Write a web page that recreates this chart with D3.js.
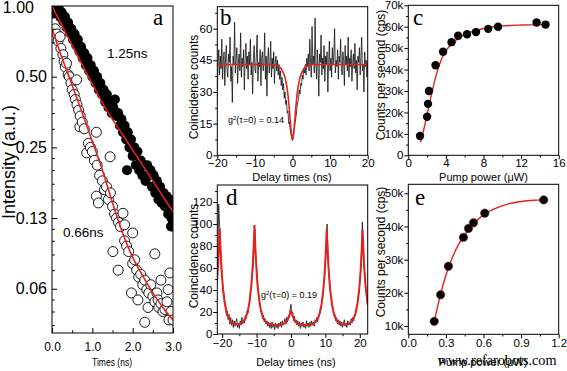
<!DOCTYPE html>
<html>
<head>
<meta charset="utf-8">
<script src="https://cdn.jsdelivr.net/npm/d3@7"></script>
<style>
  body { margin: 0; background: #fff; }
  text { font-family: "Liberation Sans", Arial, sans-serif; fill: #000; }
  .letter { font-family: "Liberation Serif", "Times New Roman", serif; font-size: 23px; }
</style>
</head>
<body>
<svg id="fig" width="567" height="371"></svg>
<script>
const RED = "#e3221e";

// ---------- panel a : decay curves (time ns, intensity) ----------
const decayFilled = [[0,1.0],[0.04,0.93],[0.08,1.02],[0.12,0.95],[0.16,0.99],[0.2,0.90],[0.24,0.94],[0.28,0.86],[0.32,0.90],
  [0.36,0.81],[0.4,0.85],[0.44,0.77],[0.48,0.80],[0.52,0.72],[0.56,0.76],[0.6,0.68],[0.64,0.72],[0.68,0.64],[0.72,0.67],
  [0.76,0.60],[0.8,0.63],[0.84,0.56],[0.88,0.60],[0.92,0.53],[0.96,0.56],[1.0,0.50],[1.04,0.53],[1.08,0.47],[1.12,0.50],
  [1.16,0.44],[1.2,0.47],[1.24,0.42],[1.28,0.44],[1.32,0.39],[1.36,0.42],[1.4,0.37],[1.44,0.39],[1.48,0.35],[1.52,0.37],
  [1.56,0.40],[1.6,0.34],[1.64,0.35],[1.68,0.31],[1.72,0.33],[1.76,0.29],[1.8,0.31],[1.84,0.27],[1.86,0.20],[1.88,0.29],
  [1.92,0.25],[1.96,0.27],[2.0,0.23],[2.04,0.25],[2.08,0.21],[2.12,0.24],[2.16,0.20],[2.2,0.22],[2.24,0.19],[2.28,0.21],
  [2.32,0.18],[2.36,0.21],[2.4,0.19],[2.44,0.20],[2.48,0.17],[2.52,0.19],[2.56,0.16],[2.6,0.18],[2.64,0.15],[2.68,0.17],
  [2.72,0.145],[2.76,0.16],[2.8,0.14],[2.84,0.155],[2.88,0.13],[2.92,0.15],[2.96,0.125],[3.0,0.14],[2.95,0.115],[3.0,0.12]];
const decayOpen = [[0.08,0.80],[0.12,0.76],[0.15,0.71],[0.2,0.74],[0.22,0.66],[0.27,0.62],[0.3,0.58],[0.33,0.55],[0.36,0.57],
  [0.4,0.51],[0.43,0.50],[0.47,0.47],[0.5,0.44],[0.55,0.42],[0.58,0.40],[0.61,0.485],[0.62,0.38],[0.66,0.36],[0.69,0.306],
  [0.7,0.34],[0.75,0.32],[0.8,0.30],[0.86,0.237],[0.9,0.26],[0.95,0.25],[1.0,0.24],[1.05,0.22],[1.1,0.29],[1.12,0.21],
  [1.1,0.155],[1.15,0.145],[1.18,0.19],[1.25,0.18],[1.3,0.165],[1.35,0.17],[1.44,0.228],[1.4,0.15],[1.45,0.16],[1.5,0.14],
  [1.51,0.09],[1.55,0.13],[1.6,0.125],[1.64,0.075],[1.65,0.12],[1.7,0.115],[1.76,0.131],[1.8,0.117],[1.8,0.10],[1.85,0.095],
  [1.9,0.09],[1.97,0.06],[2.0,0.108],[2.0,0.08],[2.05,0.083],[2.1,0.075],[2.13,0.056],[2.15,0.07],[2.2,0.072],[2.25,0.065],
  [2.3,0.045],[2.3,0.068],[2.35,0.062],[2.38,0.052],[2.4,0.06],[2.45,0.065],[2.5,0.058],[2.55,0.088],[2.55,0.055],[2.6,0.06],
  [2.63,0.056],[2.65,0.052],[2.7,0.068],[2.7,0.054],[2.75,0.05],[2.8,0.051],[2.85,0.055],[2.88,0.062],[2.9,0.046],
  [2.92,0.073],[2.95,0.05],[3.0,0.046]];
const fitFilled = [[0,1.0],[0.5,0.68],[1,0.465],[1.35,0.361],[1.5,0.329],[2,0.244],[2.5,0.18],[3,0.133]];
const fitOpen = [[0,0.80],[0.25,0.60],[0.5,0.46],[0.75,0.35],[1.0,0.265],[1.25,0.20],[1.5,0.145],[1.75,0.108],
  [2.0,0.085],[2.25,0.071],[2.5,0.060],[2.75,0.052],[3.0,0.046]];
const aYTicks = [1, 0.5, 0.25, 0.125, 0.0625];
const aYLabels = ["1.00", "0.50", "0.25", "0.13", "0.06"];

// ---------- panel b : g2 under cw pump (start -20 ns, step 0.2 ns) ----------
const bCounts = [27,44,50,38,47,41,55,36,45,49,33,46,52,40,37,48,44,56,35,42,
  25,47,43,63,39,45,51,34,44,48,40,58,37,46,42,50,31,45,53,41,
  47,36,49,43,55,38,44,29,46,52,41,39,48,57,35,44,42,50,33,46,
  49,40,44,58,36,47,28,45,51,39,43,54,37,46,41,49,34,44,47,40,
  45,38,43,36,40,33,37,31,34,27,30,24,26,20,21,15,16,12,10,8,
  7,
  9,11,14,17,19,23,25,27,31,29,34,33,38,36,41,39,43,38,46,42,
  48,40,55,44,37,61,43,47,39,65,45,36,50,42,28,48,44,57,38,46,
  41,52,35,47,43,49,30,44,54,40,46,37,51,43,48,60,39,45,42,50,
  36,47,44,55,41,38,49,45,33,52,43,47,40,56,37,46,42,50,35,44,
  48,41,53,39,45,31,47,44,51,38,46,56,40,43,30,49,42,45,37,44];
const bStart = -20, bStep = 0.2;
const bFit = [[-20,43],[-6,43],[-4.5,42.8],[-3.5,42],[-3,41],[-2.5,39.3],[-2,37],[-1.5,32.5],[-1.2,28.5],[-0.9,23],
  [-0.6,16.5],[-0.3,10.5],[0,7.2],[0.3,10.5],[0.6,16.5],[0.9,23],[1.2,28.5],[1.5,32.5],[2,37],[2.5,39.3],[3,41],
  [3.5,42],[4.5,42.8],[6,43],[20,43]];

// ---------- panel c : saturation (uW, cps) ----------
const cPoints = [[1.25,9000],[2.0,18000],[2.1,24000],[2.2,30000],[2.9,42000],[3.7,48300],[4.6,52800],[5.3,55800],
  [6.25,56500],[7.2,57500],[8.5,59000],[9.55,60000],[13.65,62000],[14.6,61000]];
const cFit = [[1.3,6000],[1.7,13000],[2,19000],[2.5,29000],[3,38000],[3.5,44500],[4,48700],[4.5,51500],[5,53500],
  [6,56300],[7,58000],[8,59200],[9,60000],[10,60400],[12,60800],[14.7,61000]];

// ---------- panel d : g2 under pulsed pump (start -21.25 ns, step 0.25 ns) ----------
const dCounts = [62,118,100,85,60,55,38,37,26,28,17,21,13,18,9,15,8,13,6,12,7,11,14,6,10,5,12,8,15,9,13,10,17,14,21,19,
  27,29,40,42,56,60,76,95,72,62,45,40,30,28,20,21,14,17,11,14,9,12,7,11,6,10,5,11,6,9,4,10,6,9,5,10,7,11,6,12,8,10,14,9,
  15,11,17,15,22,27,19,20,12,16,10,13,8,12,7,11,5,10,7,11,6,9,5,12,7,10,6,11,7,12,8,11,7,13,10,15,11,17,16,23,22,31,34,
  46,51,66,82,100,73,55,49,36,34,25,24,17,18,12,15,9,13,8,12,7,11,6,10,13,7,10,6,12,8,11,8,14,10,15,12,18,17,24,25,34,
  37,47,56,75,102,80,61,53,40,36,26];
const dStart = -21.25, dStep = 0.25;
const dFit = [[-21.45,49.3],[-21.2,61.2],[-20.95,76.5],[-20.7,96],[-20.45,76.5],[-20.2,61.2],[-19.95,49.3],[-19.7,40.1],
  [-19.2,27.2],[-18.7,19.4],[-18.2,14.8],[-17.7,11.9],[-16.7,9.1],[-15.6,8.8],[-14.6,9.35],[-13.6,12.1],[-13.1,15],
  [-12.6,19.9],[-12.1,27.9],[-11.6,41.2],[-11.35,50.7],[-11.1,63],[-10.85,78.9],[-10.6,99],[-10.35,78.9],[-10.1,63],
  [-9.85,50.7],[-9.6,41.2],[-9.1,27.9],[-8.6,19.9],[-8.1,15],[-7.6,12.1],[-6.6,9.35],[-5.3,8.2],[-4,7.9],[-3,8.2],
  [-2,9.5],[-1.5,10.7],[-1,12.8],[-0.5,16.3],[-0.25,18.8],[0,22],[0.25,18.8],[0.5,16.3],[1,12.8],[1.5,10.7],[2,9.5],
  [3,8.2],[4,7.9],[5.2,8.3],[6.4,9.1],[7.4,11.9],[7.9,14.8],[8.4,19.4],[8.9,27.2],[9.4,40.1],[9.65,49.3],[9.9,61.2],
  [10.15,76.5],[10.4,96],[10.65,76.5],[10.9,61.2],[11.15,49.3],[11.4,40.1],[11.9,27.2],[12.4,19.4],[12.9,14.8],
  [13.4,11.9],[14.4,9.1],[15.6,8.6],[16.8,9.1],[17.8,11.9],[18.3,14.7],[18.8,19.3],[19.3,27],[19.8,39.7],[20.05,48.8],
  [20.3,60.6],[20.55,75.8],[20.8,95],[21.05,75.8],[21.3,60.6],[21.55,48.8],[21.8,39.7],[22.3,27]];

// ---------- panel e : saturation, pulsed (uW, cps) ----------
const ePoints = [[0.207,11400],[0.258,19400],[0.32,28000],[0.44,36700],[0.48,39400],[0.52,41100],[0.61,44000],[1.08,48000]];
const eFit = [[0.205,11000],[0.25,18500],[0.3,25300],[0.35,30500],[0.4,34500],[0.45,37500],[0.5,40000],[0.6,43500],
  [0.7,45500],[0.8,46800],[0.9,47500],[1.0,47900],[1.08,48000]];

const svg = d3.select("#fig");
let clipId = 0;

function makePanel(box) {
  const id = "clip" + (clipId++);
  svg.append("clipPath").attr("id", id).append("rect")
    .attr("x", box.x0).attr("y", box.y0).attr("width", box.x1 - box.x0).attr("height", box.y1 - box.y0);
  return svg.append("g").attr("clip-path", `url(#${id})`);
}

function frame(box) {
  svg.append("rect").attr("x", box.x0).attr("y", box.y0)
    .attr("width", box.x1 - box.x0).attr("height", box.y1 - box.y0)
    .attr("fill", "none").attr("stroke", "#000").attr("stroke-width", 1);
}

// major + minor ticks on one side; domain line comes from the frame
function axisPair(axisFn, scale, pos, major, minor, fmt, size, pad, fontSize) {
  const tr = (axisFn === d3.axisBottom) ? `translate(0,${pos})` : `translate(${pos},0)`;
  const gm = svg.append("g").attr("transform", tr)
    .call(axisFn(scale).tickValues(minor).tickSize(size * 0.55).tickFormat(""));
  const gM = svg.append("g").attr("transform", tr)
    .call(axisFn(scale).tickValues(major).tickSize(size).tickPadding(pad).tickFormat(fmt));
  [gm, gM].forEach(g => {
    g.select(".domain").remove();
    g.selectAll("line").attr("stroke", "#000").attr("stroke-width", 1);
  });
  gM.selectAll("text").attr("font-size", fontSize);
  return gM;
}

function text(x, y, s, size, anchor) {
  return svg.append("text").attr("x", x).attr("y", y).attr("font-size", size)
    .attr("text-anchor", anchor || "middle").text(s);
}

function vtext(x, y, s, size) {
  return svg.append("text").attr("transform", `translate(${x},${y}) rotate(-90)`)
    .attr("font-size", size).attr("text-anchor", "middle").text(s);
}

function letter(x, y, s) {
  return svg.append("text").attr("class", "letter").attr("x", x).attr("y", y).text(s);
}

function g2label(x, y, val) {
  const t = text(x, y, "", 9, "start");
  t.append("tspan").text("g");
  t.append("tspan").attr("dy", -3.5).attr("font-size", 6).text("2");
  t.append("tspan").attr("dy", 3.5).text("(\u03C4=0) = " + val);
}

// ================= panel a =================
{
  const box = { x0: 52, x1: 173, y0: 6, y1: 333 };
  const x = d3.scaleLinear().domain([0, 3]).range([box.x0, box.x1]);
  const y = d3.scaleLog().base(2).domain([0.0405, 1]).range([box.y1, box.y0]);
  const g = makePanel(box);

  g.selectAll(".f").data(decayFilled).join("circle")
    .attr("cx", d => x(d[0])).attr("cy", d => y(d[1])).attr("r", 5).attr("fill", "#000");
  g.selectAll(".o").data(decayOpen).join("circle")
    .attr("cx", d => x(d[0])).attr("cy", d => y(d[1])).attr("r", 5)
    .attr("fill", "#fff").attr("stroke", "#000").attr("stroke-width", 0.9);
  const line = d3.line().x(d => x(d[0])).y(d => y(d[1])).curve(d3.curveMonotoneX);
  [fitFilled, fitOpen].forEach(f => g.append("path").attr("d", line(f))
    .attr("fill", "none").attr("stroke", RED).attr("stroke-width", 1.6));
  frame(box);

  const yMinor = [0.9, 0.8, 0.7, 0.6, 0.45, 0.4, 0.35, 0.3, 0.225, 0.2, 0.175, 0.15, 0.1125, 0.1, 0.0875, 0.075, 0.05625, 0.05, 0.04375];
  const gy = axisPair(d3.axisLeft, y, box.x0, aYTicks, yMinor, (d, i) => aYLabels[i], -5, 5, 16);
  gy.selectAll("text").filter((d, i) => i === 0).attr("dx", -13).attr("dy", "0.42em");
  axisPair(d3.axisBottom, x, box.y1, [0, 1, 2, 3], [0.5, 1.5, 2.5], d3.format(".1f"), -5, 9, 12);

  vtext(15, 162, "Intensity (a.u.)", 18);
  text(112, 366, "Times (ns)", 10).attr("textLength", 40).attr("lengthAdjust", "spacingAndGlyphs");
  letter(153, 25, "a");
  text(107, 58, "1.25ns", 13.5, "start");
  text(63, 237, "0.66ns", 13.5, "start");
}

// ================= panel b =================
{
  const box = { x0: 217.3, x1: 367.7, y0: 6.7, y1: 155.3 };
  const x = d3.scaleLinear().domain([-20, 20]).range([box.x0, box.x1]);
  const y = d3.scaleLinear().domain([0, 70]).range([box.y1, 7.5]);
  const g = makePanel(box);
  const trace = d3.line().x((d, i) => x(bStart + i * bStep)).y(d => y(d));
  g.append("path").attr("d", trace(bCounts)).attr("fill", "none")
    .attr("stroke", "#111").attr("stroke-width", 0.8);
  const fit = d3.line().x(d => x(d[0])).y(d => y(d[1]));
  g.append("path").attr("d", fit(bFit)).attr("fill", "none").attr("stroke", RED).attr("stroke-width", 1.6);
  frame(box);
  axisPair(d3.axisLeft, y, box.x0, [0, 15, 30, 45, 60], [7.5, 22.5, 37.5, 52.5, 67.5], d3.format("d"), 4, 1, 11.5);
  axisPair(d3.axisBottom, x, box.y1, [-20, -10, 0, 10, 20], [-15, -5, 5, 15], d3.format("d"), 4, 0, 11.5);
  text(292, 180.5, "Delay times (ns)", 11);
  vtext(198, 87, "Coincidence counts", 12);
  letter(220, 25, "b");
  g2label(228, 123, "0.14");
}

// ================= panel c =================
{
  const box = { x0: 408.3, x1: 558.7, y0: 5.3, y1: 155.3 };
  const x = d3.scaleLinear().domain([0, 16]).range([box.x0, box.x1]);
  const y = d3.scaleLinear().domain([0, 70000]).range([box.y1, box.y0]);
  const g = makePanel(box);
  const fit = d3.line().x(d => x(d[0])).y(d => y(d[1])).curve(d3.curveMonotoneX);
  g.append("path").attr("d", fit(cFit)).attr("fill", "none").attr("stroke", RED).attr("stroke-width", 1.4);
  g.selectAll(".p").data(cPoints).join("circle")
    .attr("cx", d => x(d[0])).attr("cy", d => y(d[1])).attr("r", 4.2).attr("fill", "#000");
  frame(box);
  const kfmt = d => d === 0 ? "0" : (d / 1000) + "k";
  axisPair(d3.axisLeft, y, box.x0, d3.range(0, 70001, 10000), d3.range(5000, 70000, 10000), kfmt, 4, 1, 11.5);
  axisPair(d3.axisBottom, x, box.y1, [0, 4, 8, 12, 16], [2, 6, 10, 14], d3.format("d"), 4, 0, 11.5);
  text(483.5, 180.5, "Pump power (\u03BCW)", 11);
  vtext(385, 75, "Counts per second (cps)", 12);
  letter(413, 25, "c");
}

// ================= panel d =================
{
  const box = { x0: 217.3, x1: 367.7, y0: 185, y1: 334 };
  const x = d3.scaleLinear().domain([-21.4, 22.3]).range([box.x0, box.x1]);
  const y = d3.scaleLinear().domain([0, 135.5]).range([box.y1, box.y0]);
  const g = makePanel(box);
  const trace = d3.line().x((d, i) => x(dStart + i * dStep)).y(d => y(d));
  g.append("path").attr("d", trace(dCounts)).attr("fill", "none")
    .attr("stroke", "#111").attr("stroke-width", 0.8);
  const fit = d3.line().x(d => x(d[0])).y(d => y(d[1]));
  g.append("path").attr("d", fit(dFit)).attr("fill", "none").attr("stroke", RED).attr("stroke-width", 2);
  frame(box);
  axisPair(d3.axisLeft, y, box.x0, d3.range(0, 121, 20), d3.range(10, 131, 20), d3.format("d"), 4, 1, 11.5);
  axisPair(d3.axisBottom, x, box.y1, [-20, -10, 0, 10, 20], [-15, -5, 5, 15], d3.format("d"), 4, 1, 11.5);
  text(296, 366, "Delay times (ns)", 11);
  vtext(198, 256, "Coincidence counts", 12);
  letter(226, 205, "d");
  g2label(261, 298, "0.19");
}

// ================= panel e =================
{
  const box = { x0: 408.3, x1: 558.7, y0: 184.3, y1: 334.3 };
  const x = d3.scaleLinear().domain([0, 1.2]).range([box.x0, box.x1]);
  const y = d3.scaleLinear().domain([7500, 52700]).range([box.y1, box.y0]);
  const g = makePanel(box);
  const fit = d3.line().x(d => x(d[0])).y(d => y(d[1])).curve(d3.curveMonotoneX);
  g.append("path").attr("d", fit(eFit)).attr("fill", "none").attr("stroke", RED).attr("stroke-width", 1.4);
  g.selectAll(".p").data(ePoints).join("circle")
    .attr("cx", d => x(d[0])).attr("cy", d => y(d[1])).attr("r", 4.2).attr("fill", "#000")
    .attr("stroke", "#7a1512").attr("stroke-width", 0.6);
  frame(box);
  const kfmt = d => (d / 1000) + "k";
  axisPair(d3.axisLeft, y, box.x0, d3.range(10000, 50001, 10000), d3.range(15000, 50000, 10000), kfmt, 4, 1, 11.5);
  axisPair(d3.axisBottom, x, box.y1, [0, 0.3, 0.6, 0.9, 1.2], [0.15, 0.45, 0.75, 1.05], d3.format(".1f"), 4, 1, 11.5);
  text(483, 366, "Pump power (\u03BCW)", 11).attr("fill", "#555");
  vtext(385, 252, "Counts per second (cps)", 12);
  letter(415, 205, "e");
  text(497, 365, "www.refarobots.com", 14).attr("class", "letter").style("font-size", "14px")
    .attr("textLength", 119).attr("lengthAdjust", "spacingAndGlyphs");
}
</script>
</body>
</html>
